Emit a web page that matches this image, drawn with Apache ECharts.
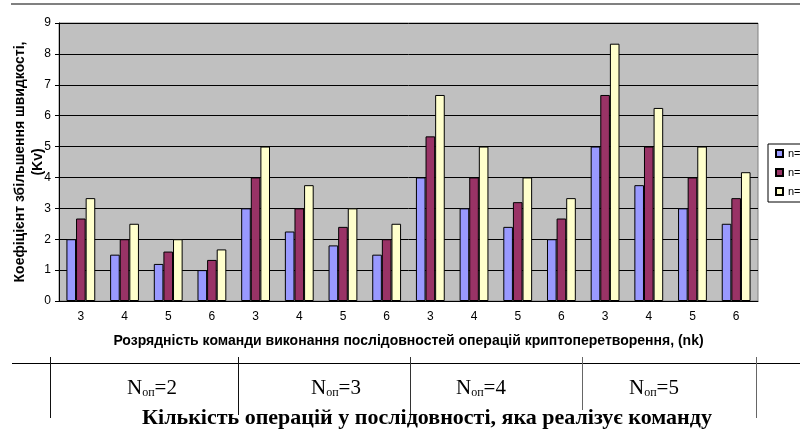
<!DOCTYPE html>
<html>
<head>
<meta charset="utf-8">
<script src="https://cdn.jsdelivr.net/npm/echarts@6/dist/echarts.min.js"></script>
<style>
  html, body { margin: 0; padding: 0; background: #fff; }
  #chart { width: 800px; height: 434px; }
</style>
</head>
<body>
<div id="chart"></div>
<script>
// розрядність команди (nk) для кожної групи Nоп
const categories = ["3", "4", "5", "6", "3", "4", "5", "6", "3", "4", "5", "6", "3", "4", "5", "6"];
const seriesNames = ["n=3", "n=4", "n=5"];
const valuesN3 = [2, 1.5, 1.2, 1, 3, 2.25, 1.8, 1.5, 4, 3, 2.4, 2, 5, 3.75, 3, 2.5];
const valuesN4 = [2.67, 2, 1.6, 1.33, 4, 3, 2.4, 2, 5.33, 4, 3.2, 2.67, 6.67, 5, 4, 3.33];
const valuesN5 = [3.33, 2.5, 2, 1.67, 5, 3.75, 3, 2.5, 6.67, 5, 4, 3.33, 8.33, 6.25, 5, 4.17];
const groupLabels = ["2", "3", "4", "5"];

const colors = ["#9999ff", "#993366", "#ffffcc"];
const sans = "Liberation Sans, Arial, sans-serif";
const serif = "Liberation Serif, Times New Roman, serif";

var chart = echarts.init(document.getElementById("chart"));

var seriesData = [valuesN3, valuesN4, valuesN5];
var series = seriesNames.map(function (name, i) {
  return {
    name: name,
    type: "bar",
    data: seriesData[i],
    barGap: "0%",
    barCategoryGap: "34%",
    itemStyle: {color: colors[i], borderColor: "#000", borderWidth: 1},
  };
});

// нижня таблиця з Nоп
var groupX = [152, 336, 481, 654];
var tableGraphics = [
  {type: "line", shape: {x1: 11, y1: 4, x2: 800, y2: 4}, style: {stroke: "#808080", lineWidth: 2}},
  {type: "line", shape: {x1: 12, y1: 363.5, x2: 800, y2: 363.5}, style: {stroke: "#000", lineWidth: 1}},
];
[[50.5, 418, "#111"], [238.5, 415, "#111"], [410.5, 415, "#333"], [582.5, 410, "#666"], [756.5, 418, "#666"]].forEach(function (v) {
  tableGraphics.push({type: "line", shape: {x1: v[0], y1: 357, x2: v[0], y2: v[1]}, style: {stroke: v[2], lineWidth: 1}});
});
groupLabels.forEach(function (g, i) {
  tableGraphics.push({
    type: "text",
    x: groupX[i],
    y: 388,
    style: {
      text: "{n|N}{s|оп}{n|=" + g + "}",
      align: "center",
      verticalAlign: "middle",
      rich: {
        n: {fontFamily: serif, fontSize: 21, lineHeight: 22, verticalAlign: "bottom", fill: "#000"},
        s: {fontFamily: serif, fontSize: 12, lineHeight: 14, verticalAlign: "bottom", fill: "#000"},
      },
    },
  });
});
tableGraphics.push({
  type: "text",
  x: 427,
  y: 418,
  style: {
    text: "Кількість операцій у послідовності, яка реалізує команду",
    align: "center",
    verticalAlign: "middle",
    fontFamily: serif,
    fontSize: 22,
    fontWeight: "bold",
    fill: "#000",
  },
});

chart.setOption({
  animation: false,
  grid: {
    left: 59,
    right: 42,
    top: 23,
    bottom: 133,
    show: true,
    backgroundColor: "#c0c0c0",
    borderColor: "#808080",
    borderWidth: 1,
  },
  legend: {
    data: seriesNames,
    orient: "vertical",
    left: 768,
    top: 144,
    padding: [4, 8, 5, 7],
    itemGap: 8,
    itemWidth: 7,
    itemHeight: 7,
    itemTextGap: 3,
    icon: "rect",
    backgroundColor: "#fff",
    borderColor: "#000",
    borderWidth: 1,
    textStyle: {fontFamily: sans, fontSize: 11, color: "#000"},
  },
  xAxis: {
    type: "category",
    data: categories,
    name: "Розрядність команди виконання послідовностей операцій криптоперетворення, (nk)",
    nameLocation: "middle",
    nameGap: 33,
    nameTextStyle: {fontFamily: sans, fontSize: 14, fontWeight: "bold", color: "#000"},
    axisLine: {lineStyle: {color: "#000", width: 1}},
    axisTick: {length: 4, lineStyle: {color: "#000"}},
    axisLabel: {fontFamily: sans, fontSize: 12, color: "#000", margin: 10},
  },
  yAxis: {
    type: "value",
    min: 0,
    max: 9,
    interval: 1,
    name: "Коефіцієнт збільшення швидкості,\n(Kv)",
    nameLocation: "middle",
    nameRotate: 90,
    nameGap: 12,
    nameMoveOverlap: false,
    nameTextStyle: {fontFamily: sans, fontSize: 14, fontWeight: "bold", color: "#000", lineHeight: 18},
    axisLine: {show: true, lineStyle: {color: "#000", width: 1}},
    axisTick: {show: true, length: 4, lineStyle: {color: "#000"}},
    axisLabel: {fontFamily: sans, fontSize: 12, color: "#000", margin: 8},
    splitLine: {lineStyle: {color: "#000", width: 1}},
  },
  series: series,
  graphic: tableGraphics,
});
</script>
</body>
</html>
